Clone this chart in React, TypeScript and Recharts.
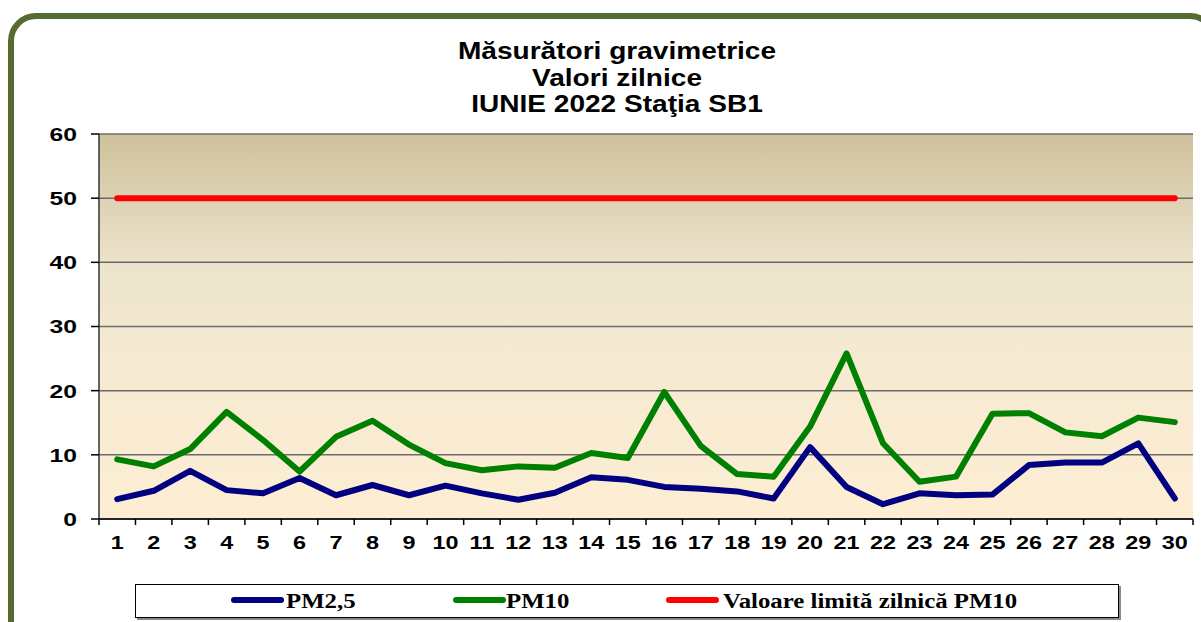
import React from 'react';
import { LineChart, Line, XAxis, YAxis, CartesianGrid } from 'recharts';

// days of June 2022
const days = [
  '1', '2', '3', '4', '5', '6', '7', '8', '9', '10',
  '11', '12', '13', '14', '15', '16', '17', '18', '19', '20',
  '21', '22', '23', '24', '25', '26', '27', '28', '29', '30',
];

const pm25 = [
  3.1, 4.4, 7.5, 4.5, 4.0, 6.4, 3.7, 5.3, 3.7, 5.2,
  4.0, 3.0, 4.1, 6.5, 6.1, 5.0, 4.7, 4.3, 3.2, 11.2,
  5.0, 2.3, 4.0, 3.7, 3.8, 8.4, 8.8, 8.8, 11.8, 3.2,
];

const pm10 = [
  9.3, 8.2, 10.9, 16.7, 12.3, 7.4, 12.8, 15.3, 11.6, 8.7,
  7.6, 8.2, 8.0, 10.3, 9.5, 19.8, 11.4, 7.0, 6.6, 14.4,
  25.8, 11.8, 5.8, 6.6, 16.4, 16.5, 13.5, 12.9, 15.8, 15.1,
];

const limitPm10 = [
  50, 50, 50, 50, 50, 50, 50, 50, 50, 50,
  50, 50, 50, 50, 50, 50, 50, 50, 50, 50,
  50, 50, 50, 50, 50, 50, 50, 50, 50, 50,
];

const yTicks = [0, 10, 20, 30, 40, 50, 60];

const titleLines = ['Măsurători gravimetrice', 'Valori zilnice', 'IUNIE 2022 Staţia SB1'];

const series = [
  { key: 'pm25', name: 'PM2,5', color: '#000080' },
  { key: 'pm10', name: 'PM10', color: '#008000' },
  { key: 'limit', name: 'Valoare limită zilnică PM10', color: '#FF0000' },
];

const data = days.map((day, i) => ({
  day,
  pm25: pm25[i],
  pm10: pm10[i],
  limit: limitPm10[i],
}));

const SANS = '"Liberation Sans", Arial, sans-serif';
const SERIF = '"Liberation Serif", "Times New Roman", serif';

const YTick = (props: any) => {
  const { x, y, payload } = props;
  return (
    <g transform={`translate(${x},${y})`}>
      <text
        transform="scale(1.3,1)"
        textAnchor="end"
        dy="0.36em"
        fontFamily={SANS}
        fontWeight="bold"
        fontSize={19}
        fill="#000"
      >
        {payload.value}
      </text>
    </g>
  );
};

const XTick = (props: any) => {
  const { x, y, payload, index } = props;
  const half = payload.offset || 18.2;
  return (
    <g>
      <line x1={x - half} x2={x - half} y1={y} y2={y + 6} stroke="#000" strokeWidth={1.5} />
      {index === days.length - 1 && (
        <line x1={x + half} x2={x + half} y1={y} y2={y + 6} stroke="#000" strokeWidth={1.5} />
      )}
      <g transform={`translate(${x},${y + 24})`}>
        <text
          transform="scale(1.3,1)"
          textAnchor="middle"
          dy="0.36em"
          fontFamily={SANS}
          fontWeight="bold"
          fontSize={18}
          fill="#000"
        >
          {payload.value}
        </text>
      </g>
    </g>
  );
};

// legend item positions as in the original sheet
const legendSlots = [
  { line: 95, text: 150 },
  { line: 317, text: 370 },
  { line: 530, text: 587 },
];

export default function App() {
  return (
    <div
      style={{
        position: 'fixed',
        left: 0,
        top: 0,
        width: 1201,
        height: 622,
        background: '#fff',
        overflow: 'hidden',
      }}
    >
      {/* rounded frame */}
      <div
        style={{
          position: 'absolute',
          left: 8,
          top: 13,
          width: 1210,
          height: 700,
          border: '6px solid #556B2F',
          borderRadius: 28,
          boxSizing: 'border-box',
        }}
      />

      {/* title */}
      <div
        style={{
          position: 'absolute',
          left: 317,
          top: 38,
          width: 600,
          textAlign: 'center',
          fontFamily: SANS,
          fontWeight: 'bold',
          fontSize: 23,
          lineHeight: '26.5px',
          color: '#000',
        }}
      >
        {titleLines.map((t) => (
          <div key={t} style={{ transform: 'scaleX(1.22)' }}>
            {t}
          </div>
        ))}
      </div>

      <div style={{ position: 'absolute', left: 0, top: 0 }}>
        <LineChart width={1201} height={622} data={data} margin={{ top: 134, right: 8, bottom: 73, left: 0 }}>
          <defs>
            <linearGradient id="plotBg" x1="0" y1="0" x2="0" y2="1">
              <stop offset="0%" stopColor="#CEC19C" />
              <stop offset="35%" stopColor="#EDE4CC" />
              <stop offset="60%" stopColor="#F6EAD2" />
              <stop offset="100%" stopColor="#FDEED3" />
            </linearGradient>
          </defs>
          <CartesianGrid
            vertical={false}
            stroke="#6b6b6b"
            strokeWidth={1.5}
            fill="url(#plotBg)"
            fillOpacity={1}
          />
          <XAxis
            dataKey="day"
            scale="band"
            height={30}
            interval={0}
            tickSize={0}
            tickMargin={0}
            tickLine={false}
            axisLine={{ stroke: '#000', strokeWidth: 1.5 }}
            tick={<XTick />}
          />
          <XAxis
            xAxisId="frameTop"
            dataKey="day"
            scale="band"
            orientation="top"
            height={0}
            tick={false}
            tickLine={false}
            axisLine={{ stroke: '#9a9a9a', strokeWidth: 2 }}
          />
          <YAxis
            width={99}
            domain={[0, 60]}
            ticks={yTicks}
            interval={0}
            tickSize={8}
            tickMargin={14}
            axisLine={{ stroke: '#333', strokeWidth: 1.5 }}
            tickLine={{ stroke: '#000', strokeWidth: 1.5 }}
            tick={<YTick />}
          />
          <YAxis
            yAxisId="frameRight"
            orientation="right"
            width={0}
            domain={[0, 60]}
            tick={false}
            tickLine={false}
            axisLine={{ stroke: '#9a9a9a', strokeWidth: 2.5 }}
          />

          {series.map((s) => (
            <Line
              key={s.key}
              type="linear"
              dataKey={s.key}
              name={s.name}
              stroke={s.color}
              strokeWidth={6}
              strokeLinecap="round"
              strokeLinejoin="round"
              dot={false}
              activeDot={false}
              isAnimationActive={false}
            />
          ))}
        </LineChart>
      </div>

      {/* legend */}
      <div
        style={{
          position: 'absolute',
          left: 135,
          top: 584,
          width: 984,
          height: 34,
          border: '1px solid #000',
          boxShadow: '2px 2px 0 #8a8a8a',
          background: '#fff',
          boxSizing: 'border-box',
        }}
      >
        {series.map((s, i) => (
          <React.Fragment key={s.key}>
            <div
              style={{
                position: 'absolute',
                left: legendSlots[i].line,
                top: 12,
                width: 53,
                height: 6,
                borderRadius: 3,
                background: s.color,
              }}
            />
            <div
              style={{
                position: 'absolute',
                left: legendSlots[i].text,
                top: 2,
                lineHeight: '28px',
                whiteSpace: 'nowrap',
                fontFamily: SERIF,
                fontWeight: 'bold',
                fontSize: 20,
                color: '#000',
                transform: 'scaleX(1.24)',
                transformOrigin: 'left center',
              }}
            >
              {s.name}
            </div>
          </React.Fragment>
        ))}
      </div>
    </div>
  );
}
